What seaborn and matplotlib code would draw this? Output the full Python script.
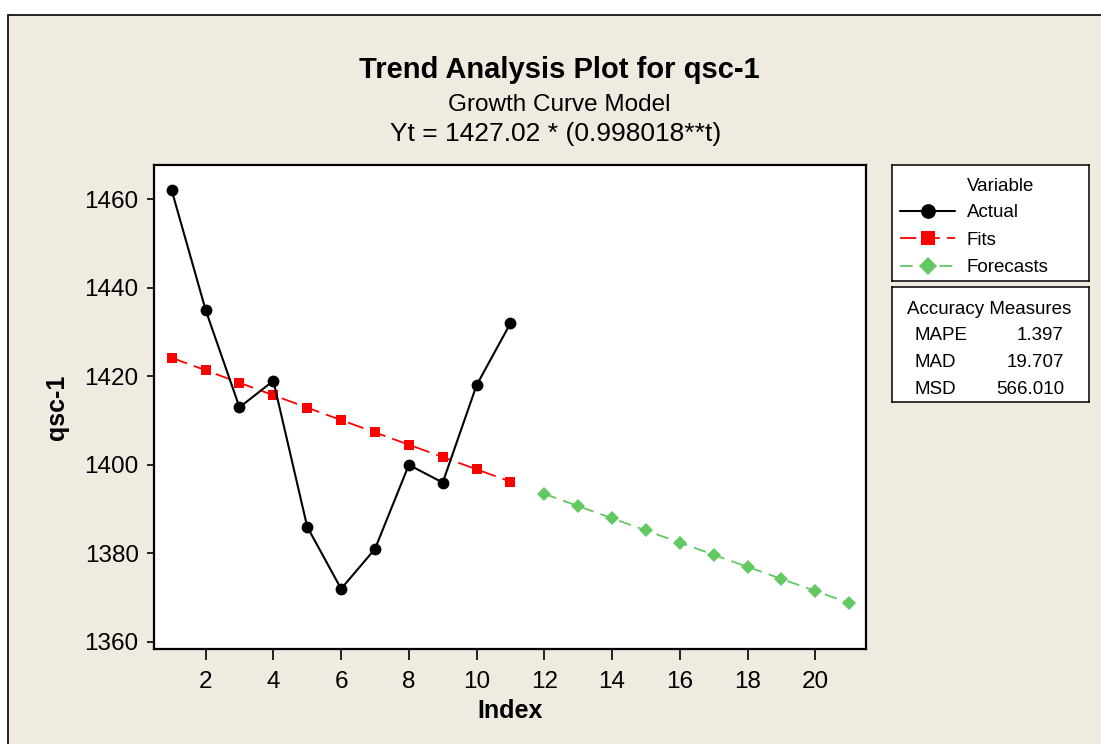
import matplotlib
matplotlib.use("Agg")
import matplotlib.pyplot as plt
from matplotlib.patches import Rectangle
import seaborn as sns
import pandas as pd

# ---- data -------------------------------------------------------------
index_actual = list(range(1, 12))
actual = [1462, 1435, 1413, 1419, 1386, 1372, 1381, 1400, 1396, 1418, 1432]
fits = [1424.19, 1421.37, 1418.55, 1415.74, 1412.93, 1410.13,
        1407.34, 1404.55, 1401.77, 1398.99, 1396.21]
index_forecast = list(range(12, 22))
forecasts = [1393.45, 1390.69, 1387.93, 1385.18, 1382.43,
             1379.69, 1376.96, 1374.23, 1371.51, 1368.79]
x_ticks = [2, 4, 6, 8, 10, 12, 14, 16, 18, 20]
y_ticks = [1360, 1380, 1400, 1420, 1440, 1460]
accuracy_names = ["MAPE", "MAD", "MSD"]
accuracy_values = ["1.397", "19.707", "566.010"]

# ---- style ------------------------------------------------------------
sns.set_style("ticks")
TEXT = ["Liberation Sans", "DejaVu Sans"]
plt.rcParams.update({
    "font.family": TEXT,
    "text.color": "black",
    "axes.labelcolor": "black",
    "xtick.color": "black",
    "ytick.color": "black",
})

BG = "#EFEBE1"
GREEN = "#62C862"
W, H = 1101, 744


def fx(px):
    return px / W


def fy(py):
    return 1 - py / H


fig = plt.figure(figsize=(W / 100, H / 100), dpi=100, facecolor="white")

# beige graph panel with its black frame
fig.patches.append(Rectangle((fx(8), -0.1), 1.2, fy(15) + 0.1,
                             transform=fig.transFigure, facecolor=BG,
                             edgecolor="black", linewidth=1.2, zorder=-10))

# ---- main axes --------------------------------------------------------
ax = fig.add_axes([fx(154), fy(649), (866 - 154) / W, (649 - 165) / H])
ax.set_facecolor("white")

df_a = pd.DataFrame({"Index": index_actual, "value": actual})
df_f = pd.DataFrame({"Index": index_actual, "value": fits})
df_c = pd.DataFrame({"Index": index_forecast, "value": forecasts})

sns.lineplot(data=df_a, x="Index", y="value", ax=ax, color="black",
             linewidth=1.5, marker="o", markersize=8.5,
             markeredgecolor="black", markeredgewidth=0,
             label="Actual", legend=False, zorder=3)
sns.lineplot(data=df_f, x="Index", y="value", ax=ax, color="#FF0000",
             linewidth=1.3, linestyle=(0, (9, 4)), marker="s", markersize=7.5,
             markeredgecolor="#FF0000", markeredgewidth=0,
             label="Fits", legend=False, zorder=2)
sns.lineplot(data=df_c, x="Index", y="value", ax=ax, color=GREEN,
             linewidth=1.3, linestyle=(0, (7, 4)), marker="D", markersize=7,
             markeredgecolor=GREEN, markeredgewidth=0,
             label="Forecasts", legend=False, zorder=2)

ax.set_xlim(0.476, 21.497)
ax.set_ylim(1358.4, 1467.75)
ax.set_xticks(x_ticks)
ax.set_yticks(y_ticks)
ax.tick_params(axis="x", direction="out", length=8, width=1.2, pad=8,
               labelsize=17.5, colors="black")
ax.tick_params(axis="y", direction="out", length=5, width=1.2, pad=6,
               labelsize=17.5, colors="black")
for s in ax.spines.values():
    s.set_visible(True)
    s.set_color("black")
    s.set_linewidth(1.6)

ax.set_xlabel("Index", fontsize=18, fontweight="bold", labelpad=4)
ax.set_ylabel("qsc-1", fontsize=18, fontweight="bold", labelpad=11)

# ---- titles -----------------------------------------------------------
fig.text(fx(559), fy(78), "Trend Analysis Plot for qsc-1", ha="center",
         va="baseline", fontsize=21, fontweight="bold")
fig.text(fx(559), fy(111), "Growth Curve Model", ha="center",
         va="baseline", fontsize=17.5)
fig.text(fx(556), fy(141), "Yt = 1427.02 * (0.998018**t)", ha="center",
         va="baseline", fontsize=19)

# ---- legend box -------------------------------------------------------
lax = fig.add_axes([fx(892), fy(281), (1089 - 892) / W, (281 - 165) / H])
lax.set_facecolor("white")
lax.set_xticks([])
lax.set_yticks([])
for s in lax.spines.values():
    s.set_color("black")
    s.set_linewidth(1.1)
lax.text((1001 - 892) / 197, 1 - (191 - 165) / 116, "Variable",
         transform=lax.transAxes, ha="center", va="baseline", fontsize=13.5)
handles, labels = ax.get_legend_handles_labels()
lax.legend(handles, labels, loc="upper left",
           bbox_to_anchor=((900 - 892) / 197, 1 - (204 - 165) / 116),
           frameon=False, borderpad=0, borderaxespad=0, fontsize=13.5,
           handlelength=2.95, handletextpad=0.62, labelspacing=0.56,
           markerscale=1.25)

# ---- accuracy measures box ---------------------------------------------
bax = fig.add_axes([fx(892), fy(402), (1089 - 892) / W, (402 - 287) / H])
bax.set_facecolor("white")
bax.set_xticks([])
bax.set_yticks([])
for s in bax.spines.values():
    s.set_color("black")
    s.set_linewidth(1.1)
bax.set_xlim(892, 1089)
bax.set_ylim(402, 287)
bax.text(989, 314, "Accuracy Measures", ha="center", va="baseline",
         fontsize=13.5)
for i, (name, val) in enumerate(zip(accuracy_names, accuracy_values)):
    yy = 340 + 27 * i
    bax.text(915, yy, name, ha="left", va="baseline", fontsize=13.5)
    bax.text(1064, yy, val, ha="right", va="baseline", fontsize=13.5)

fig.savefig("out.png", dpi=100, facecolor=fig.get_facecolor())
